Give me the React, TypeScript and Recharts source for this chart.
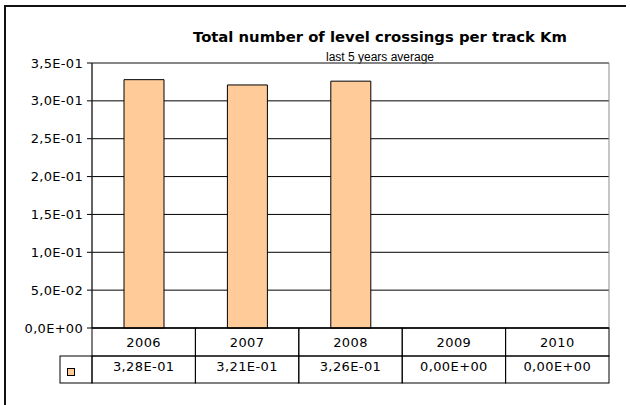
import React from "react";
import { BarChart, Bar, XAxis, YAxis, CartesianGrid, ReferenceArea } from "recharts";

// Excel-style bar chart with a data table under the x axis.
const years = ["2006", "2007", "2008", "2009", "2010"];
const crossingsPerKm = [0.328, 0.321, 0.326, 0, 0];
const yTicks = [0, 0.05, 0.1, 0.15, 0.2, 0.25, 0.3, 0.35];

const TITLE = "Total number of level crossings per track Km";
const SUBTITLE = "last 5 years average";

const BAR_FILL = "#FFCC99";
const TICK_FONT = "'DejaVu Sans', Verdana, sans-serif";

const data = years.map((year, i) => ({ year, value: crossingsPerKm[i] }));

// 0.35 -> "3,5E-01", comma decimal like the source sheet
function sci(v: number, digits: number): string {
  if (v === 0) return (0).toFixed(digits).replace(".", ",") + "E+00";
  let e = Math.floor(Math.log10(Math.abs(v)));
  let m = v / Math.pow(10, e);
  if (Math.abs(parseFloat(m.toFixed(digits))) >= 10) {
    e += 1;
    m = v / Math.pow(10, e);
  }
  const sign = e < 0 ? "-" : "+";
  const exp = String(Math.abs(e)).padStart(2, "0");
  return m.toFixed(digits).replace(".", ",") + "E" + sign + exp;
}

const ROW1 = 28;
const ROW2 = 27;
const LEGEND_W = 32;

// draws one column of the data table (year + value), plus the legend cell on the first column
function TableTick(props: any) {
  const { x, y, payload, width, visibleTicksCount } = props;
  const cx = Number(x);
  const top = Number(y);
  let band = payload && payload.offset ? payload.offset * 2 : 0;
  if (!band && width && visibleTicksCount) band = Number(width) / visibleTicksCount;
  const left = cx - band / 2;
  const idx = payload.index ?? years.indexOf(payload.value);
  const textStyle = { fontFamily: TICK_FONT, fontSize: 13, letterSpacing: 0.4 };
  return (
    <g>
      <rect x={left} y={top} width={band} height={ROW1} fill="none" stroke="#000" strokeWidth={1} />
      <rect x={left} y={top + ROW1} width={band} height={ROW2} fill="none" stroke="#000" strokeWidth={1} />
      <text x={cx} y={top + 19} textAnchor="middle" fill="#000" style={textStyle}>
        {payload.value}
      </text>
      <text x={cx} y={top + ROW1 + 15} textAnchor="middle" fill="#000" style={textStyle}>
        {sci(crossingsPerKm[idx], 2)}
      </text>
      {idx === 0 && (
        <g>
          <rect x={left - LEGEND_W} y={top + ROW1} width={LEGEND_W} height={ROW2} fill="none" stroke="#000" strokeWidth={1} />
          <rect x={left - LEGEND_W + 7.5} y={top + ROW1 + 12.5} width={7} height={7} fill={BAR_FILL} stroke="#000" strokeWidth={1} />
        </g>
      )}
    </g>
  );
}

export default function App() {
  return (
    <div style={{ position: "absolute", left: 0, top: 0, width: 630, height: 405 }}>
      {/* outer chart-area frame: only left and top edges show in the screenshot */}
      <div style={{ position: "absolute", left: 4, top: 5, width: 2, height: 400, background: "#111" }} />
      <div style={{ position: "absolute", left: 4, top: 5, width: 622, height: 2, background: "#111" }} />
      <div
        style={{
          position: "absolute",
          left: 180,
          width: 400,
          top: 28,
          textAlign: "center",
          fontFamily: TICK_FONT,
          fontWeight: "bold",
          fontSize: 14.8,
          lineHeight: "18px",
          color: "#000",
          whiteSpace: "nowrap",
        }}
      >
        {TITLE}
      </div>
      <div
        style={{
          position: "absolute",
          left: 180,
          width: 400,
          top: 50,
          textAlign: "center",
          fontFamily: "'Liberation Sans', Arial, sans-serif",
          fontSize: 12,
          lineHeight: "14px",
          color: "#000",
          whiteSpace: "nowrap",
        }}
      >
        {SUBTITLE}
      </div>
      <div style={{ position: "absolute", left: 0, top: 0 }}>
        <BarChart
          width={630}
          height={405}
          data={data}
          margin={{ top: 63, right: 21, bottom: 0, left: 0 }}
          barSize={40}
        >
          <CartesianGrid vertical={false} stroke="#000" strokeWidth={1} />
          {/* grey plot-area border (top and right) */}
          <ReferenceArea y1={0} y2={0.35} fill="none" stroke="#8c8c8c" strokeWidth={1} />
          <XAxis
            dataKey="year"
            height={77}
            axisLine={{ stroke: "#000" }}
            tickLine={false}
            tickSize={0}
            tickMargin={0}
            interval={0}
            tick={<TableTick />}
          />
          <YAxis
            width={92}
            domain={[0, 0.35]}
            ticks={yTicks}
            interval={0}
            tickFormatter={(v: number) => sci(v, 1)}
            axisLine={{ stroke: "#000" }}
            tickLine={{ stroke: "#000" }}
            tickSize={5}
            tickMargin={4}
            tick={{ fill: "#000", fontSize: 13, fontFamily: TICK_FONT, letterSpacing: 0.3 }}
          />
          <Bar
            dataKey="value"
            fill={BAR_FILL}
            stroke="#000"
            strokeWidth={1}
            isAnimationActive={false}
          />
        </BarChart>
      </div>
    </div>
  );
}
